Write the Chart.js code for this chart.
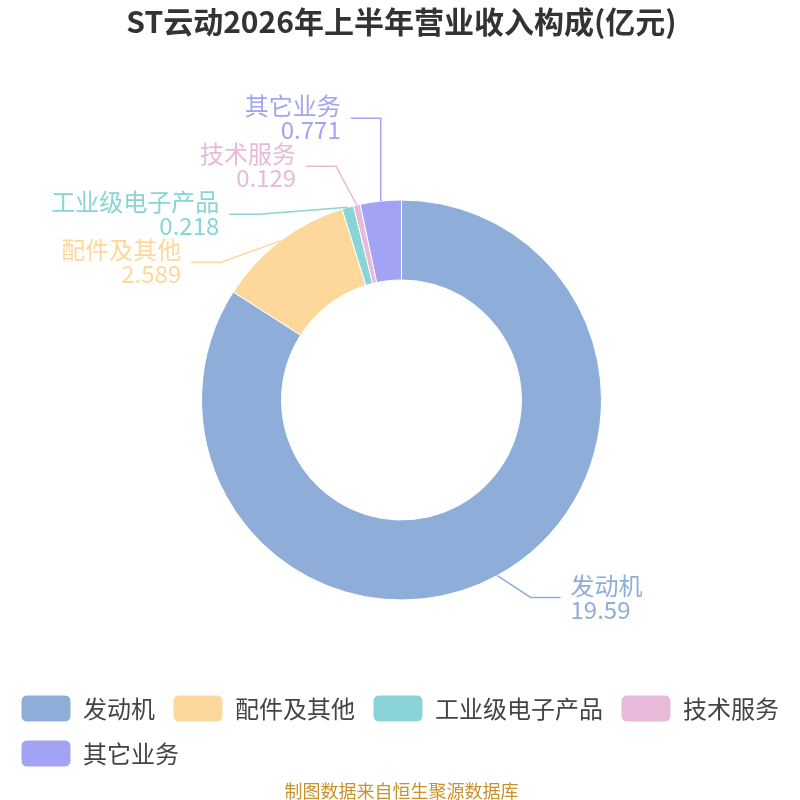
<!DOCTYPE html>
<html><head><meta charset="utf-8">
<script src="https://cdn.jsdelivr.net/npm/chart.js@4"></script>
<style>html,body{margin:0;padding:0;background:#fff;}canvas{display:block;}</style>
</head><body>
<canvas id="c" width="800" height="800"></canvas>
<script>
const categories = ['发动机', '配件及其他', '工业级电子产品', '技术服务', '其它业务'];
const values = [19.59, 2.589, 0.218, 0.129, 0.771];
const colors = ['#8eaed9', '#fed89a', '#88d4d7', '#e8b9d8', '#a3a3f5'];
const titleText = 'ST云动2026年上半年营业收入构成(亿元)';
const sourceText = '制图数据来自恒生聚源数据库';
const FONT = "'Noto Sans CJK SC', 'Noto Sans', sans-serif";

const labelPlugin = {
  id: 'outLabels',
  afterDatasetsDraw(chart) {
    const ctx = chart.ctx;
    const meta = chart.getDatasetMeta(0);
    const items = meta.data.map((arc, i) => {
      const p = arc.getProps(['x','y','startAngle','endAngle','outerRadius'], true);
      const mid = (p.startAngle + p.endAngle) / 2;
      const c = Math.cos(mid), s = Math.sin(mid);
      const side = c >= 0 ? 1 : -1;
      return {i, side, cx: p.x, cy: p.y, R: p.outerRadius,
        px: p.x + p.outerRadius * c, py: p.y + p.outerRadius * s,
        y: p.y + (p.outerRadius + 25) * s};
    });
    const spacing = 48;
    [1, -1].forEach(side => {
      const list = items.filter(it => it.side === side).sort((a, b) => a.y - b.y);
      if (!list.length) return;
      let last = -Infinity, total = 0;
      list.forEach(it => {
        const d = it.y - last;
        if (d < spacing && last !== -Infinity) { it.y += spacing - d; total += spacing - d; }
        last = it.y;
      });
      if (total > 0) { const sh = total / list.length; list.forEach(it => it.y -= sh); }
    });
    items.forEach(it => {
      const a = it.R + 18, b = it.R + 45;
      const dy = it.y - it.cy;
      let ex = it.cx;
      if (Math.abs(dy) < b) ex = it.cx + it.side * a * Math.sqrt(1 - dy * dy / (b * b));
      ex = it.side > 0 ? Math.max(ex, it.px) : Math.min(ex, it.px);
      const hx = ex + it.side * 30;
      ctx.save();
      ctx.strokeStyle = colors[it.i];
      ctx.lineWidth = 1.5;
      ctx.beginPath();
      ctx.moveTo(it.px, it.py);
      ctx.lineTo(ex, it.y);
      ctx.lineTo(hx, it.y);
      ctx.stroke();
      ctx.fillStyle = colors[it.i];
      ctx.font = '24px ' + FONT;
      ctx.textBaseline = 'middle';
      ctx.textAlign = it.side > 0 ? 'left' : 'right';
      const tx = hx + it.side * 10;
      ctx.fillText(categories[it.i], tx, it.y - 12);
      ctx.fillText(String(values[it.i]), tx, it.y + 12);
      ctx.restore();
    });
  }
};

new Chart(document.getElementById('c'), {
  type: 'doughnut',
  data: {
    labels: categories,
    datasets: [{
      data: values,
      backgroundColor: colors,
      borderColor: '#ffffff',
      borderWidth: 1,
      radius: 200,
      cutout: '60%'
    }]
  },
  options: {
    responsive: false,
    animation: false,
    devicePixelRatio: 1,
    layout: {padding: {left: 3, right: 0, top: 0, bottom: 0}},
    plugins: {
      title: {
        display: true, text: titleText, color: '#333333',
        font: {family: FONT, size: 30, weight: 'bold', lineHeight: 1.2},
        padding: {top: 4, bottom: 83}
      },
      subtitle: {
        display: true, text: sourceText, position: 'bottom', color: '#c8922b',
        font: {family: FONT, size: 18, lineHeight: 1.0},
        padding: {top: 5, bottom: 0}
      },
      legend: {
        position: 'bottom', align: 'start',
        labels: {
          boxWidth: 50, boxHeight: 27, padding: 18, color: '#444444',
          useBorderRadius: true, borderRadius: 6,
          font: {family: FONT, size: 24}
        }
      },
      tooltip: {enabled: false}
    }
  },
  plugins: [labelPlugin]
});
</script>
</body></html>
